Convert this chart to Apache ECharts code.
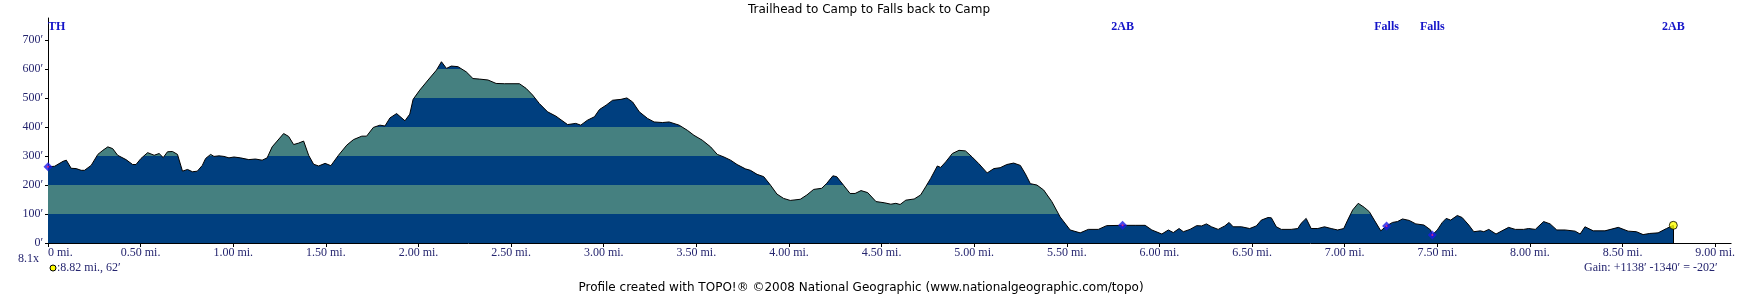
<!DOCTYPE html>
<html>
<head>
<meta charset="utf-8">
<title>Trailhead to Camp to Falls back to Camp</title>
<script src="https://cdn.jsdelivr.net/npm/echarts@6/dist/echarts.min.js"></script>
<style>
  html, body { margin: 0; padding: 0; background: #fff; }
  #chart { width: 1738px; height: 296px; }
</style>
</head>
<body>
<div id="chart"></div>
<script>
// distance along trail (mi) and elevation (ft)
const dist = [
  0.000, 0.036, 0.081, 0.099, 0.125, 0.152, 0.179, 0.197, 0.233, 0.269,
  0.296, 0.323, 0.349, 0.376, 0.421, 0.457, 0.475, 0.502, 0.538, 0.573,
  0.600, 0.622, 0.645, 0.672, 0.699, 0.726, 0.753, 0.780, 0.806, 0.833,
  0.851, 0.878, 0.896, 0.923, 0.950, 0.977, 1.004, 1.039, 1.084, 1.120,
  1.156, 1.183, 1.210, 1.237, 1.272, 1.299, 1.326, 1.353, 1.380, 1.407,
  1.434, 1.461, 1.496, 1.527, 1.568, 1.613, 1.649, 1.694, 1.720, 1.756,
  1.792, 1.819, 1.846, 1.882, 1.927, 1.953, 1.971, 2.007, 2.052, 2.097,
  2.124, 2.151, 2.177, 2.213, 2.258, 2.294, 2.330, 2.375, 2.419, 2.464,
  2.545, 2.581, 2.616, 2.652, 2.697, 2.742, 2.805, 2.849, 2.876, 2.912,
  2.950, 2.977, 3.013, 3.048, 3.093, 3.125, 3.156, 3.192, 3.237, 3.272,
  3.317, 3.353, 3.407, 3.452, 3.487, 3.532, 3.577, 3.613, 3.649, 3.685,
  3.720, 3.765, 3.792, 3.828, 3.864, 3.900, 3.935, 3.971, 4.007, 4.061,
  4.097, 4.133, 4.177, 4.204, 4.237, 4.258, 4.294, 4.330, 4.357, 4.389,
  4.425, 4.470, 4.514, 4.550, 4.577, 4.600, 4.631, 4.676, 4.711, 4.738,
  4.765, 4.801, 4.819, 4.846, 4.882, 4.918, 4.953, 4.989, 5.025, 5.070,
  5.106, 5.140, 5.176, 5.213, 5.249, 5.276, 5.303, 5.339, 5.375, 5.419,
  5.464, 5.518, 5.572, 5.616, 5.670, 5.715, 5.801, 5.869, 5.923, 5.959,
  6.013, 6.048, 6.075, 6.106, 6.129, 6.165, 6.201, 6.228, 6.254, 6.281,
  6.317, 6.353, 6.376, 6.398, 6.443, 6.487, 6.523, 6.550, 6.586, 6.604,
  6.631, 6.658, 6.711, 6.747, 6.765, 6.792, 6.819, 6.855, 6.891, 6.927,
  6.962, 6.995, 7.016, 7.043, 7.073, 7.106, 7.133, 7.160, 7.195, 7.226,
  7.258, 7.285, 7.312, 7.348, 7.384, 7.428, 7.464, 7.473, 7.500, 7.527,
  7.548, 7.572, 7.608, 7.634, 7.670, 7.697, 7.733, 7.751, 7.778, 7.817,
  7.849, 7.885, 7.921, 7.966, 7.993, 8.029, 8.074, 8.109, 8.145, 8.190,
  8.244, 8.271, 8.297, 8.342, 8.405, 8.477, 8.530, 8.575, 8.611, 8.647,
  8.692, 8.737, 8.774
]
const elev = [
  263, 265, 282, 286, 258, 257, 251, 251, 268, 306,
  320, 332, 326, 303, 288, 271, 271, 292, 312, 303,
  309, 295, 315, 316, 306, 248, 254, 246, 248, 268,
  292, 306, 299, 301, 299, 294, 297, 294, 288, 290,
  286, 294, 332, 352, 378, 368, 340, 345, 352, 303,
  272, 266, 275, 267, 303, 338, 357, 369, 369, 399,
  407, 404, 432, 447, 422, 445, 496, 528, 563, 597,
  626, 603, 611, 609, 591, 568, 566, 563, 551, 550,
  550, 534, 511, 482, 453, 438, 409, 413, 407, 424,
  436, 461, 476, 493, 496, 501, 487, 453, 430, 418,
  416, 418, 407, 389, 372, 355, 332, 306, 297, 286,
  271, 256, 251, 237, 229, 200, 169, 154, 147, 151,
  166, 185, 189, 206, 232, 229, 200, 171, 171, 181,
  174, 143, 139, 134, 137, 133, 148, 152, 166, 194,
  223, 266, 261, 280, 309, 320, 318, 297, 274, 242,
  257, 260, 271, 276, 268, 239, 205, 200, 183, 143,
  90, 45, 35, 47, 47, 60, 61, 61, 61, 45,
  31, 45, 36, 50, 39, 47, 60, 59, 66, 56,
  47, 59, 71, 56, 56, 50, 59, 79, 88, 87,
  56, 47, 47, 50, 68, 85, 50, 50, 56, 50,
  45, 50, 79, 114, 137, 123, 108, 79, 42, 59,
  71, 74, 83, 78, 66, 62, 45, 28, 45, 71,
  85, 79, 95, 88, 62, 39, 42, 39, 47, 31,
  42, 54, 47, 47, 50, 47, 74, 66, 45, 45,
  41, 31, 56, 42, 42, 54, 41, 39, 29, 33,
  35, 50, 61
]

const xTicks = [0, 0.5, 1, 1.5, 2, 2.5, 3, 3.5, 4, 4.5, 5, 5.5, 6, 6.5, 7, 7.5, 8, 8.5, 9]
const yTicks = [0, 100, 200, 300, 400, 500, 600, 700]
const bandEdges = [0, 100, 200, 300, 400, 500, 600, 700, 800]

const wpNames = ['TH', '2AB', 'Falls', 'Falls', '2AB']
const wpDist = [0, 5.801, 7.226, 7.473, 8.774]
const wpElev = [263, 61, 59, 28, 61]

const BLUE = '#003f7f'
const TEAL = '#458080'
const LABEL = '#25256f'
const SERIF = '"Liberation Serif", "Times New Roman", serif'

const chart = echarts.init(document.getElementById('chart'))

const last = dist.length - 1
const profile = dist.map((d, i) => [d, elev[i]])
const wpPoints = wpDist.slice(0, 4).map((d, i) => [d, wpElev[i]])
const endPoint = [[wpDist[4], wpElev[4]]]

const option = {
  animation: false,
  title: {
    text: 'Trailhead to Camp to Falls back to Camp',
    left: 'center',
    top: 4,
    padding: 0,
    textStyle: { fontFamily: '"DejaVu Sans", sans-serif', fontSize: 12, fontWeight: 'normal', color: '#000' },
  },
  grid: { left: 48, right: 0, top: 18, bottom: 53 },
  xAxis: [
    {
      type: 'value',
      min: 0,
      max: 9.086,
      interval: 0.5,
      axisLine: { lineStyle: { color: '#000', width: 1 } },
      axisTick: { show: true, length: 4, customValues: xTicks, lineStyle: { color: '#000' } },
      splitLine: { show: false },
      axisLabel: {
        customValues: xTicks,
        margin: 4,
        alignMinLabel: 'left',
        fontFamily: SERIF,
        fontSize: 12,
        color: LABEL,
        formatter: v => (v === 0 ? '0' : v.toFixed(2)) + ' mi.',
      },
    },
    {
      // waypoint names along the top
      type: 'value',
      position: 'top',
      min: 0,
      max: 9.086,
      axisLine: { show: false },
      axisTick: { show: false },
      splitLine: { show: false },
      axisLabel: {
        customValues: wpDist,
        inside: true,
        margin: 3,
        alignMinLabel: 'left',
        fontFamily: SERIF,
        fontSize: 12,
        fontWeight: 'bold',
        color: '#1414c8',
        formatter: (v, i) => {
          const k = wpDist.indexOf(v)
          return wpNames[k >= 0 ? k : i]
        },
      },
    },
  ],
  yAxis: {
    type: 'value',
    min: 0,
    max: 777,
    interval: 100,
    axisLine: { show: true, lineStyle: { color: '#000', width: 1 } },
    axisTick: { show: true, length: 3, customValues: yTicks, lineStyle: { color: '#000' } },
    splitLine: { show: false },
    axisLabel: {
      customValues: yTicks,
      margin: 5,
      fontFamily: SERIF,
      fontSize: 12,
      color: LABEL,
      formatter: v => v + '\u2032',
    },
  },
  visualMap: {
    type: 'piecewise',
    show: false,
    seriesIndex: 0,
    dimension: 1,
    pieces: bandEdges.slice(0, -1).map((lo, i) => ({
      gte: lo,
      lt: bandEdges[i + 1],
      color: i % 2 === 0 ? BLUE : TEAL,
    })),
  },
  series: [
    {
      type: 'line',
      data: profile,
      showSymbol: false,
      symbol: 'none',
      lineStyle: { color: '#000', width: 1 },
      areaStyle: { opacity: 1 },
      silent: true,
      markLine: {
        silent: true,
        symbol: 'none',
        label: { show: false },
        lineStyle: { color: '#000', width: 1, type: 'solid' },
        data: [[{ coord: [dist[last], elev[last]] }, { coord: [dist[last], 0] }]],
      },
    },
    {
      type: 'scatter',
      data: wpPoints,
      symbol: 'diamond',
      symbolSize: 9,
      itemStyle: { color: '#1a1ae6' },
      z: 5,
    },
    {
      type: 'scatter',
      data: wpPoints,
      symbol: 'circle',
      symbolSize: 2,
      itemStyle: { color: '#ff2080' },
      z: 6,
    },
    {
      type: 'scatter',
      data: endPoint,
      symbol: 'circle',
      symbolSize: 8,
      itemStyle: { color: '#ffff00', borderColor: '#000', borderWidth: 1 },
      z: 6,
    },
  ],
  graphic: [
    {
      type: 'text',
      left: 18,
      top: 253,
      style: { text: '8.1x', font: '12px ' + SERIF, fill: LABEL },
    },
    {
      type: 'circle',
      shape: { cx: 53, cy: 268, r: 3 },
      style: { fill: '#ffff00', stroke: '#000', lineWidth: 1 },
    },
    {
      type: 'text',
      left: 57,
      top: 262,
      style: { text: ':8.82 mi., 62\u2032', font: '12px ' + SERIF, fill: LABEL },
    },
    {
      type: 'text',
      left: 1584,
      top: 262,
      style: { text: 'Gain: +1138\u2032 -1340\u2032 = -202\u2032', font: '12px ' + SERIF, fill: LABEL },
    },
    {
      type: 'text',
      x: 861,
      y: 288,
      style: {
        text: 'Profile created with TOPO!\u00ae \u00a92008 National Geographic (www.nationalgeographic.com/topo)',
        font: '12px "DejaVu Sans", sans-serif',
        fill: '#000',
        align: 'center',
        verticalAlign: 'middle',
      },
    },
  ],
}

chart.setOption(option)
</script>
</body>
</html>
